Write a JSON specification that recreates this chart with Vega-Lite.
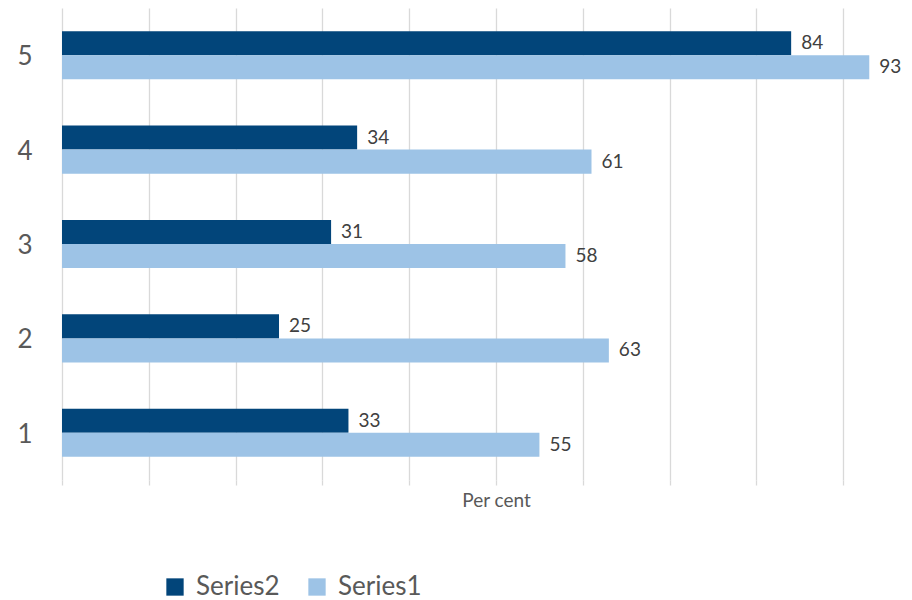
{
  "$schema": "https://vega.github.io/schema/vega-lite/v6.json",
  "autosize": "none",
  "width": 842,
  "height": 472,
  "padding": {"left": 62, "top": 8, "right": 8, "bottom": 120},
  "background": "white",
  "config": {
    "view": {"stroke": null},
    "font": "Lato"
  },
  "data": {
    "values": [
      {"cat": "1", "series": "Series2", "value": 33},
      {"cat": "1", "series": "Series1", "value": 55},
      {"cat": "2", "series": "Series2", "value": 25},
      {"cat": "2", "series": "Series1", "value": 63},
      {"cat": "3", "series": "Series2", "value": 31},
      {"cat": "3", "series": "Series1", "value": 58},
      {"cat": "4", "series": "Series2", "value": 34},
      {"cat": "4", "series": "Series1", "value": 61},
      {"cat": "5", "series": "Series2", "value": 84},
      {"cat": "5", "series": "Series1", "value": 93}
    ]
  },
  "encoding": {
    "y": {
      "field": "cat", "type": "nominal", "sort": "descending",
      "scale": {"paddingInner": 0.49, "paddingOuter": 0.245},
      "axis": {"title": null, "domain": false, "ticks": false, "labelFontSize": 26, "labelFontWeight": "normal", "labelColor": "#595959", "labelPadding": 30, "labelOffset": 2, "labelFont": "Lato"}
    },
    "yOffset": {
      "field": "series", "type": "nominal",
      "scale": {"domain": ["Series2", "Series1"], "paddingInner": 0, "paddingOuter": 0}
    },
    "x": {
      "field": "value", "type": "quantitative",
      "scale": {"domain": [0, 97], "nice": false, "zero": true},
      "axis": {
        "values": [0, 10, 20, 30, 40, 50, 60, 70, 80, 90],
        "labels": false, "domain": false,
        "grid": true, "gridColor": "#d9d9d9", "gridWidth": 1.3,
        "ticks": true, "tickColor": "#d9d9d9", "tickSize": 5, "tickWidth": 1.3,
        "title": "Per cent", "titleFontSize": 19, "titleFontWeight": "normal", "titleColor": "#595959",
        "titleX": 434, "titleY": 11, "titleAlign": "center", "titleBaseline": "top", "titleFont": "Lato"
      }
    }
  },
  "layer": [
    {
      "mark": {"type": "bar"},
      "encoding": {
        "color": {
          "field": "series", "type": "nominal",
          "scale": {"domain": ["Series2", "Series1"], "range": ["#02457a", "#9dc3e6"]},
          "legend": {
            "title": null, "orient": "none", "direction": "horizontal",
            "legendX": 100, "legendY": 566,
            "symbolType": "square", "symbolSize": 300, "symbolStrokeWidth": 0,
            "labelFontSize": 26, "labelColor": "#595959", "labelFont": "Lato",
            "labelOffset": 8, "columnPadding": 24
          }
        }
      }
    },
    {
      "mark": {"type": "text", "align": "left", "baseline": "middle", "dx": 10, "fontSize": 19, "color": "#404040", "font": "Lato"},
      "encoding": {"text": {"field": "value", "type": "quantitative"}}
    }
  ]
}
